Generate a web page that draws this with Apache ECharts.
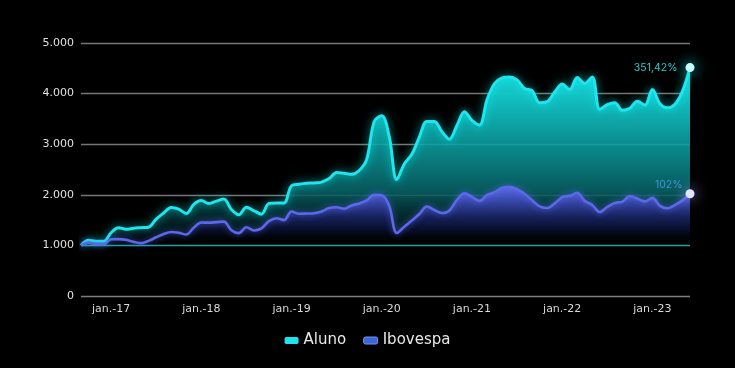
<!DOCTYPE html>
<html>
<head>
<meta charset="utf-8">
<script src="https://cdn.jsdelivr.net/npm/echarts@6/dist/echarts.min.js"></script>
<style>
html,body{margin:0;padding:0;background:#000;}
#c{width:735px;height:368px;}
</style>
</head>
<body>
<div id="c"></div>
<script>
var categories = [
 'set.-16','out.-16','nov.-16','dez.-16',
 'jan.-17','fev.-17','mar.-17','abr.-17','mai.-17','jun.-17','jul.-17','ago.-17','set.-17','out.-17','nov.-17','dez.-17',
 'jan.-18','fev.-18','mar.-18','abr.-18','mai.-18','jun.-18','jul.-18','ago.-18','set.-18','out.-18','nov.-18','dez.-18',
 'jan.-19','fev.-19','mar.-19','abr.-19','mai.-19','jun.-19','jul.-19','ago.-19','set.-19','out.-19','nov.-19','dez.-19',
 'jan.-20','fev.-20','mar.-20','abr.-20','mai.-20','jun.-20','jul.-20','ago.-20','set.-20','out.-20','nov.-20','dez.-20',
 'jan.-21','fev.-21','mar.-21','abr.-21','mai.-21','jun.-21','jul.-21','ago.-21','set.-21','out.-21','nov.-21','dez.-21',
 'jan.-22','fev.-22','mar.-22','abr.-22','mai.-22','jun.-22','jul.-22','ago.-22','set.-22','out.-22','nov.-22','dez.-22',
 'jan.-23','fev.-23','mar.-23','abr.-23','mai.-23','jun.-23'
];
var xTickLabels = ['jan.-17','jan.-18','jan.-19','jan.-20','jan.-21','jan.-22','jan.-23'];
var yTickLabels = ['0','1.000','2.000','3.000','4.000','5.000'];
var seriesNames = ['Aluno','Ibovespa'];
var endLabels = ['351,42%','102%'];

var aluno = [
 1000,1100,1080,1080,1250,1350,1320,1340,1350,1360,1520,1640,1748,1715,1630,1810,
 1886,1830,1875,1915,1710,1605,1755,1685,1617,1830,1840,1840,
 2180,2210,2230,2235,2250,2320,2440,2425,2405,2480,2700,3450,
 3560,3150,2300,2610,2800,3140,3450,3450,3250,3100,3370,3640,
 3470,3380,3880,4200,4310,4330,4270,4100,4060,3820,3840,4030,
 4190,4080,4320,4200,4330,3690,3780,3820,3670,3710,3850,3773,
 4080,3800,3720,3790,4050,4514
];
var ibovespa = [
 1000,1055,1025,1020,1120,1125,1110,1070,1044,1090,1160,1225,1265,1250,1215,1350,
 1452,1450,1460,1470,1300,1242,1360,1295,1335,1480,1538,1500,
 1669,1625,1630,1637,1670,1738,1755,1725,1790,1830,1890,1998,
 1990,1780,1245,1370,1490,1620,1770,1700,1640,1690,1900,2030,
 1960,1880,2000,2050,2140,2160,2110,2020,1890,1770,1740,1830,
 1955,1980,2040,1880,1800,1660,1760,1840,1865,1975,1925,1870,
 1940,1780,1735,1800,1890,2020
];

var FONT = '"DejaVu Sans", "Noto Sans", sans-serif';
var FONT2 = 'Inter, "Noto Sans", sans-serif';
var last = categories.length - 1;
var chart = echarts.init(document.getElementById('c'), null, {renderer:'canvas'});

function grad(stops){
  return new echarts.graphic.LinearGradient(0,0,0,1, stops);
}

chart.setOption({
  backgroundColor: '#000',
  animation: false,
  grid: {left: 81, right: 45, top: 43, bottom: 72},
  legend: {
    top: 328, left: 'center',
    icon: 'roundRect', itemWidth: 14, itemHeight: 7, itemGap: 17,
    textStyle: {color: '#e8e8e8', fontSize: 15, fontFamily: FONT},
    data: [
      {name: seriesNames[0], itemStyle: {color: '#1fe3ec'}},
      {name: seriesNames[1], itemStyle: {color: '#3d66d6', borderColor: '#7b90f0', borderWidth: 1}}
    ]
  },
  xAxis: {
    type: 'category', boundaryGap: false, data: categories,
    axisLine: {show: false}, axisTick: {show: false},
    axisLabel: {
      color: '#d8d8d8', fontSize: 11, fontFamily: FONT, margin: 8,
      interval: function(i, v){ return xTickLabels.indexOf(v) >= 0; }
    },
    splitLine: {show: false}
  },
  yAxis: {
    type: 'value', min: 0, max: 5000, interval: 1000,
    axisLine: {show: false}, axisTick: {show: false},
    axisLabel: {
      color: '#e0e0e0', fontSize: 11, fontFamily: FONT, margin: 7,
      formatter: function(v){ return yTickLabels[Math.round(v/1000)]; }
    },
    splitLine: {show: true, lineStyle: {width: 1.3, color: [
      '#7e7e7e', 'rgb(32,162,164)', '#767676', '#767676', '#767676', '#767676'
    ]}}
  },
  series: [
    {
      name: seriesNames[0], type: 'line', data: aluno, smooth: 0.35,
      showSymbol: false, z: 2,
      itemStyle: {color: '#1fe3ec'},
      lineStyle: {color: '#1de6ef', width: 3, shadowBlur: 8, shadowColor: 'rgba(0,255,255,0.7)'},
      areaStyle: {opacity: 1, color: grad([
        {offset: 0, color: 'rgba(26,216,218,1)'},
        {offset: 0.14, color: 'rgba(18,196,198,0.97)'},
        {offset: 0.33, color: 'rgba(12,162,164,0.88)'},
        {offset: 0.54, color: 'rgba(8,102,106,0.86)'},
        {offset: 0.62, color: 'rgba(5,60,64,0.84)'},
        {offset: 0.7, color: 'rgba(3,32,35,0.8)'},
        {offset: 0.755, color: 'rgba(0,12,14,0.35)'},
        {offset: 0.775, color: 'rgba(0,0,0,0)'},
        {offset: 1, color: 'rgba(0,0,0,0)'}
      ])},
      markPoint: {
        symbol: 'circle', symbolSize: 9,
        itemStyle: {color: '#c8ffff', shadowBlur: 14, shadowColor: '#00ffff'},
        label: {show: true, position: 'left', distance: 8, color: '#2ccbcf', fontSize: 10.5, fontFamily: FONT2,
          formatter: function(){ return endLabels[0]; }},
        data: [{coord: [categories[last], aluno[last]]}]
      }
    },
    {
      name: seriesNames[1], type: 'line', data: ibovespa, smooth: 0.35,
      showSymbol: false, z: 2,
      itemStyle: {color: '#3d66d6'},
      lineStyle: {color: '#5b68e8', width: 2.6, shadowBlur: 6, shadowColor: 'rgba(100,110,255,0.7)'},
      areaStyle: {opacity: 1, color: grad([
        {offset: 0, color: 'rgba(92,106,230,0.96)'},
        {offset: 0.12, color: 'rgba(60,74,180,0.96)'},
        {offset: 0.28, color: 'rgba(22,33,92,0.96)'},
        {offset: 0.4, color: 'rgba(8,12,40,0.95)'},
        {offset: 0.46, color: 'rgba(2,4,12,0.85)'},
        {offset: 0.5, color: 'rgba(0,0,0,0)'},
        {offset: 1, color: 'rgba(0,0,0,0)'}
      ])},
      markPoint: {
        symbol: 'circle', symbolSize: 9,
        itemStyle: {color: '#e4e3ff', shadowBlur: 14, shadowColor: '#9a9cff'},
        label: {show: true, position: 'left', distance: 5, offset: [2, -9], color: '#3f93d8', fontSize: 10.5, fontFamily: FONT2,
          formatter: function(){ return endLabels[1]; }},
        data: [{coord: [categories[last], ibovespa[last]]}]
      }
    }
  ]
});
</script>
</body>
</html>
